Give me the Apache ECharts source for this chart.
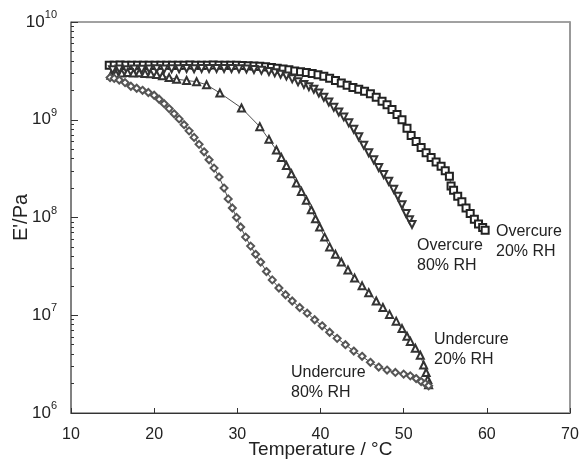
<!DOCTYPE html>
<html>
<head>
    <meta charset="utf-8">
    <title>E' vs temperature</title>
    <script src="https://cdn.jsdelivr.net/npm/echarts@6/dist/echarts.min.js"></script>
    <style>
        html, body { margin: 0; padding: 0; background: #fff; }
    </style>
</head>
<body>
<div id="main" style="width: 582px;height:464px;"></div>

<script type="text/javascript">

    // [temperature in degC, E' in Pa]
    var overcure20 = [
        [14.6,3.62e9],[15.2,3.60e9],[15.9,3.63e9],[16.6,3.61e9],[17.3,3.60e9],[18.0,3.62e9],[18.7,3.61e9],
        [19.4,3.60e9],[20.1,3.62e9],[20.8,3.61e9],[21.5,3.60e9],[22.2,3.62e9],[22.9,3.61e9],[23.6,3.60e9],
        [24.3,3.63e9],[25.0,3.62e9],[25.7,3.61e9],[26.4,3.62e9],[27.1,3.63e9],[27.8,3.61e9],[28.5,3.62e9],
        [29.2,3.60e9],[29.9,3.61e9],[30.6,3.58e9],[31.3,3.57e9],[32.0,3.55e9],[32.7,3.52e9],[33.4,3.48e9],
        [34.1,3.43e9],[34.8,3.37e9],[35.5,3.30e9],[36.2,3.24e9],[36.9,3.16e9],[37.6,3.10e9],[38.3,3.04e9],
        [39.0,2.97e9],[39.7,2.88e9],[40.4,2.78e9],[41.1,2.66e9],[41.8,2.52e9],[42.5,2.38e9],[43.2,2.25e9],
        [43.9,2.14e9],[44.6,2.05e9],[45.3,1.96e9],[46.0,1.84e9],[46.7,1.70e9],[47.4,1.55e9],[48.0,1.42e9],
        [48.6,1.27e9],[49.2,1.13e9],[49.8,1.0e9],[50.4,8.2e8],[50.9,6.9e8],[51.5,6.0e8],[52.1,5.2e8],
        [52.7,4.6e8],[53.3,4.1e8],[53.9,3.7e8],[54.5,3.35e8],[55.0,3.0e8],[55.5,2.65e8],[55.7,2.1e8],
        [56.0,1.9e8],[56.5,1.65e8],[57.0,1.45e8],[57.5,1.25e8],[58.0,1.1e8],[58.5,9.6e7],[59.0,8.6e7],
        [59.5,7.9e7],[59.8,7.4e7]
    ];

    var overcure80 = [
        [15.0,3.25e9],[15.8,3.3e9],[16.7,3.25e9],[17.6,3.3e9],[18.5,3.28e9],[19.4,3.3e9],[20.3,3.32e9],
        [21.2,3.3e9],[22.1,3.33e9],[23.0,3.32e9],[23.9,3.34e9],[24.8,3.33e9],[25.7,3.35e9],[26.6,3.34e9],
        [27.5,3.35e9],[28.4,3.35e9],[29.3,3.34e9],[30.2,3.33e9],[31.1,3.3e9],[32.0,3.27e9],[32.9,3.2e9],
        [33.8,3.12e9],[34.5,3.02e9],[35.2,2.92e9],[35.9,2.8e9],[36.6,2.62e9],[37.3,2.45e9],[38.0,2.3e9],
        [38.6,2.18e9],[39.2,2.05e9],[39.8,1.88e9],[40.4,1.7e9],[41.0,1.52e9],[41.6,1.34e9],[42.2,1.2e9],
        [42.8,1.07e9],[43.4,9.3e8],[44.0,8.0e8],[44.6,6.7e8],[45.2,5.5e8],[45.8,4.6e8],[46.4,3.9e8],
        [47.0,3.25e8],[47.6,2.75e8],[48.2,2.35e8],[48.8,1.95e8],[49.3,1.65e8],[49.8,1.35e8],[50.3,1.1e8],
        [50.7,9.5e7],[51.0,8.5e7]
    ];

    var undercure20 = [
        [14.8,2.85e9],[15.4,2.95e9],[16.1,3.0e9],[16.8,3.05e9],[17.5,3.0e9],[18.2,3.02e9],[18.9,2.98e9],
        [19.6,2.95e9],[20.3,2.9e9],[21.0,2.82e9],[21.8,2.7e9],[22.7,2.6e9],[23.9,2.52e9],[25.1,2.45e9],
        [26.3,2.28e9],[27.9,1.88e9],[30.5,1.32e9],[32.7,8.5e8],[33.8,6.3e8],[34.7,4.9e8],[35.3,4.1e8],
        [35.9,3.4e8],[36.5,2.8e8],[37.1,2.25e8],[37.7,1.85e8],[38.3,1.5e8],[38.9,1.2e8],[39.4,9.7e7],
        [39.9,8.0e7],[40.5,6.3e7],[41.1,5.0e7],[41.8,4.2e7],[42.5,3.5e7],[43.3,2.9e7],[44.1,2.4e7],
        [45.0,2.0e7],[45.8,1.7e7],[46.7,1.4e7],[47.5,1.2e7],[48.3,1.02e7],[49.1,8.7e6],[49.8,7.3e6],
        [50.4,6.1e6],[50.8,5.4e6],[51.4,4.6e6],[52.0,3.9e6],[52.4,3.1e6],[52.7,2.6e6],[52.9,2.2e6],
        [53.0,1.95e6]
    ];

    var undercure80 = [
        [14.7,2.7e9],[15.2,2.65e9],[15.8,2.55e9],[16.5,2.4e9],[17.2,2.2e9],[17.9,2.1e9],[18.6,2.0e9],
        [19.3,1.9e9],[20.0,1.78e9],[20.6,1.62e9],[21.2,1.46e9],[21.8,1.3e9],[22.4,1.15e9],[23.0,1.02e9],
        [23.6,8.9e8],[24.2,7.7e8],[24.8,6.6e8],[25.4,5.6e8],[26.0,4.7e8],[26.6,3.9e8],[27.2,3.2e8],
        [27.8,2.6e8],[28.4,2.0e8],[28.9,1.55e8],[29.4,1.25e8],[29.9,1.0e8],[30.4,8.0e7],[31.0,6.3e7],
        [31.6,5.1e7],[32.2,4.2e7],[32.8,3.5e7],[33.5,2.8e7],[34.2,2.3e7],[35.0,1.9e7],[35.8,1.62e7],
        [36.6,1.4e7],[37.5,1.2e7],[38.4,1.05e7],[39.3,9.0e6],[40.2,7.8e6],[41.1,6.7e6],[42.0,5.8e6],
        [43.0,5.0e6],[44.0,4.3e6],[45.0,3.8e6],[46.0,3.3e6],[47.0,2.95e6],[48.0,2.75e6],[49.0,2.6e6],
        [50.0,2.5e6],[50.8,2.4e6],[51.5,2.25e6],[52.1,2.1e6],[52.6,2.0e6],[53.0,1.9e6]
    ];

    // tick labels
    var xTicks = [10, 20, 30, 40, 50, 60, 70];
    var yDecades = [1e6, 1e7, 1e8, 1e9, 1e10];
    var minorSteps = [2, 3, 4, 5, 6, 7, 8, 9];

    // tick positions in log10 space for the linear helper axes
    var yMajorLog = yDecades.map(function (v) { return Math.log10(v); });
    var yMinorLog = [];
    for (var i = 0; i < yDecades.length - 1; i++) {
        for (var j = 0; j < minorSteps.length; j++) {
            yMinorLog.push(Math.log10(yDecades[i] * minorSteps[j]));
        }
    }

    var FONT = 'Liberation Sans, Arial, sans-serif';

    function seriesOf(name, data, symbol, rotate, color) {
        return {
            name: name,
            type: 'line',
            data: data,
            symbol: symbol,
            symbolSize: 7,
            symbolRotate: rotate,
            xAxisIndex: 0,
            yAxisIndex: 0,
            lineStyle: { color: '#222', width: 0.8 },
            itemStyle: { color: color, borderWidth: 1.3 },
            animation: false,
            z: 3
        };
    }

    function tickAxis(values, len) {
        return {
            type: 'value',
            min: 6, max: 10,
            position: 'left',
            axisLine: { show: false },
            axisTick: { show: true, inside: true, length: len,
                lineStyle: { color: '#333', width: 1 }, customValues: values },
            axisLabel: { show: false },
            splitLine: { show: false }
        };
    }

    var chart = echarts.init(document.getElementById('main'));

    var option = {
        backgroundColor: '#fff',
        animation: false,
        grid: {
            left: 71, top: 22, right: 12, bottom: 51,
            outerBoundsMode: 'none',
            containLabel: false,
            show: true, borderColor: '#444', borderWidth: 1
        },
        xAxis: [{
            type: 'value',
            min: 10, max: 70, interval: 10,
            name: 'Temperature / °C',
            nameLocation: 'middle',
            nameGap: 27,
            nameMoveOverlap: false,
            nameTextStyle: { fontFamily: FONT, fontSize: 19, color: '#222',
                verticalAlign: 'top' },
            axisLine: { lineStyle: { color: '#333', width: 1 } },
            axisTick: { inside: true, length: 5, lineStyle: { color: '#333' } },
            axisLabel: { fontFamily: FONT, fontSize: 16, color: '#222', margin: 14 },
            splitLine: { show: false }
        }],
        yAxis: [{
            type: 'log',
            logBase: 10,
            min: 1e6, max: 1e10,
            name: "E'/Pa",
            nameLocation: 'middle',
            nameGap: 40,
            nameMoveOverlap: false,
            nameRotate: 90,
            nameTextStyle: { fontFamily: FONT, fontSize: 20, color: '#222',
                verticalAlign: 'bottom' },
            axisLine: { lineStyle: { color: '#777', width: 1.5 } },
            axisTick: { show: false },
            axisLabel: {
                customValues: yDecades,
                margin: 14,
                fontFamily: FONT,
                formatter: function (v) {
                    var e = Math.round(Math.log10(v));
                    return '{b|10}{s|' + e + '}';
                },
                rich: {
                    b: { fontFamily: FONT, fontSize: 17, color: '#222' },
                    s: { fontFamily: FONT, fontSize: 11, color: '#222', padding: [0, 0, 14, 0] }
                }
            },
            splitLine: { show: false },
            minorTick: { show: false }
        },
        tickAxis(yMajorLog, 7),
        tickAxis(yMinorLog, 3),
        {
            // right frame in grey
            type: 'value',
            min: 6, max: 10,
            position: 'right',
            axisLine: { show: true, lineStyle: { color: '#999', width: 2 } },
            axisTick: { show: false },
            axisLabel: { show: false },
            splitLine: { show: false }
        }],
        graphic: [
            { type: 'text', left: 496, top: 222,
              style: { text: 'Overcure\n20% RH', font: '16px ' + FONT, fill: '#222', lineHeight: 20 } },
            { type: 'text', left: 417, top: 236,
              style: { text: 'Overcure\n80% RH', font: '16px ' + FONT, fill: '#222', lineHeight: 20 } },
            { type: 'text', left: 434, top: 330,
              style: { text: 'Undercure\n20% RH', font: '16px ' + FONT, fill: '#222', lineHeight: 20 } },
            { type: 'text', left: 291, top: 363,
              style: { text: 'Undercure\n80% RH', font: '16px ' + FONT, fill: '#222', lineHeight: 20 } }
        ],
        series: [
            seriesOf('Overcure 20% RH', overcure20, 'emptyRect', 0, '#222'),
            seriesOf('Overcure 80% RH', overcure80, 'emptyTriangle', 180, '#333'),
            seriesOf('Undercure 20% RH', undercure20, 'emptyTriangle', 0, '#333'),
            seriesOf('Undercure 80% RH', undercure80, 'emptyDiamond', 0, '#555')
        ]
    };

    chart.setOption(option);

</script>
</body>
</html>
